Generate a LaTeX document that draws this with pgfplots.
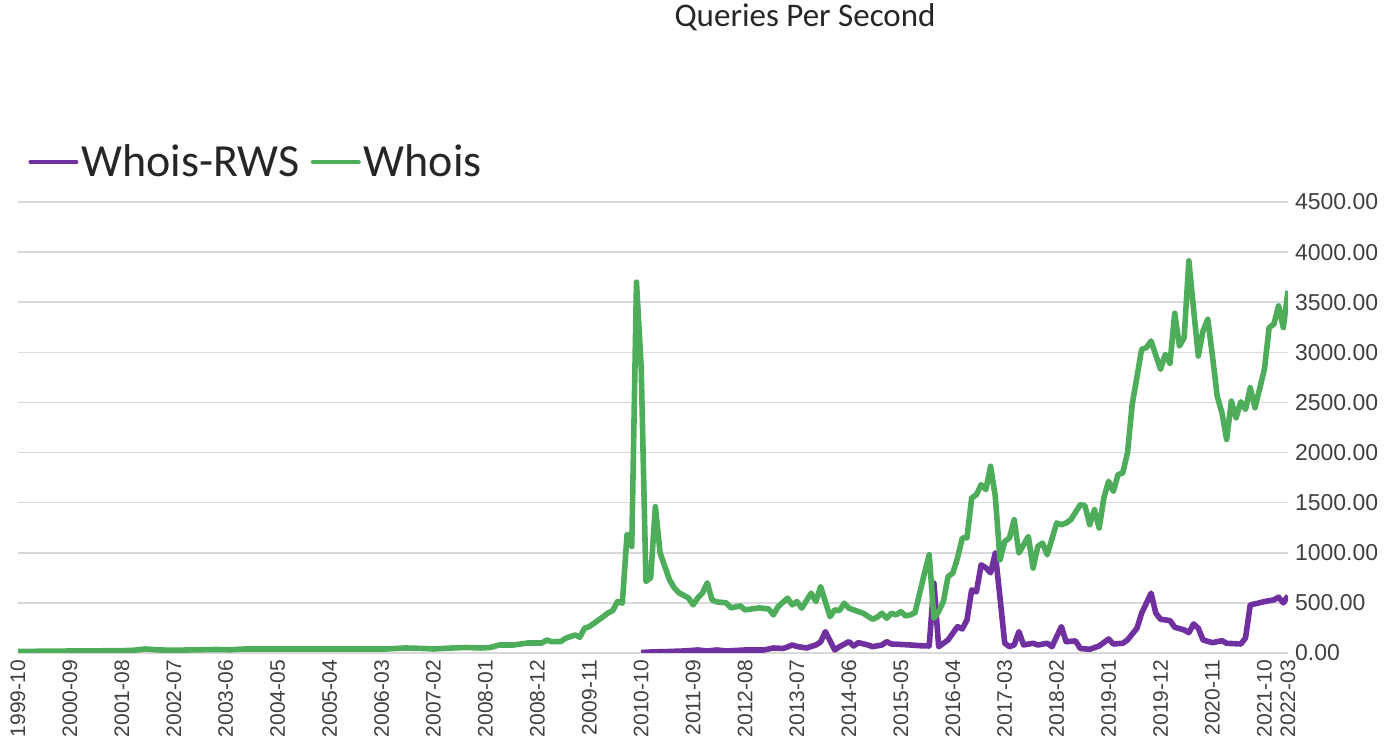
\documentclass[border=0pt]{standalone}
\usepackage{fontspec}
\setmainfont{Liberation Sans}
\newfontfamily\calibri{Carlito}
\usepackage{pgfplots}
\pgfplotsset{compat=1.18}
\definecolor{rws}{RGB}{112,48,160}
\definecolor{whois}{RGB}{78,173,91}
\definecolor{gridgray}{RGB}{217,217,217}
\definecolor{ticktext}{RGB}{64,64,64}
\definecolor{titletext}{RGB}{38,38,38}

% x = month index, 0 = 1999-10 ... 269 = 2022-03
\pgfplotstableread{
x y
132 5
134 10
138 15
141 20
144 30
146 20
148 30
150 20
152 25
154 30
158 30
160 50
162 45
163 60
164 80
165 65
167 50
169 80
170 110
171 213
173 30
174 63
176 113
177 70
178 103
180 80
181 63
183 80
184 113
185 90
187 85
189 80
191 73
193 70
194 697
195 63
197 130
199 263
200 240
201 330
202 630
203 610
204 880
205 850
206 800
207 997
208 550
209 97
210 63
211 80
212 213
213 80
215 97
216 80
218 97
219 63
221 263
222 113
224 120
225 45
227 37
229 70
231 140
232 90
234 97
235 130
237 247
238 397
240 597
241 397
242 337
244 323
245 257
247 230
248 203
249 290
250 247
251 130
253 103
255 123
256 97
259 90
260 150
261 480
262 490
264 513
266 530
267 557
268 500
269 570
}\rwsdata

\pgfplotstableread{
x y
0 15
6 18
12 20
18 22
24 25
27 40
30 30
33 28
36 30
42 35
45 32
48 40
54 40
60 40
66 40
72 40
78 40
80 45
82 50
86 45
88 40
92 50
95 55
98 50
100 55
102 80
105 80
108 100
111 100
112 130
113 113
115 115
116 147
118 180
119 157
120 247
121 263
123 330
125 400
126 425
127 515
128 497
129 1180
130 1063
131 3700
132 2850
133 714
134 750
135 1460
136 1000
137 863
138 730
139 650
140 600
142 550
143 480
144 550
145 600
146 700
147 530
148 510
150 500
151 450
153 470
154 430
157 450
159 440
160 380
161 463
163 547
164 480
165 513
166 447
168 597
169 513
170 663
172 363
173 430
174 423
175 497
176 447
178 413
179 397
181 337
182 357
183 397
184 347
185 397
186 380
187 413
188 370
189 380
190 403
192 797
193 980
194 347
195 413
196 513
197 763
198 797
199 947
200 1147
201 1150
202 1547
203 1580
204 1680
205 1630
206 1863
207 1563
208 930
209 1113
210 1147
211 1330
212 997
214 1163
215 847
216 1063
217 1097
218 980
220 1297
221 1280
222 1297
223 1330
225 1480
226 1470
227 1280
228 1430
229 1247
230 1547
231 1713
232 1613
233 1780
234 1797
235 1997
236 2480
238 3030
239 3047
240 3113
242 2830
243 2980
244 2890
245 3390
246 3063
247 3147
248 3913
249 3430
250 2963
251 3213
252 3330
253 2963
254 2563
255 2397
256 2130
257 2513
258 2347
259 2507
260 2430
261 2647
262 2447
264 2830
265 3247
266 3280
267 3463
268 3247
269 3613
}\whoisdata

\begin{document}
\begin{tikzpicture}
\path[use as bounding box] (-9pt,-44.5pt) rectangle (684pt,326.5pt);
\begin{axis}[
    at={(0pt,0pt)}, anchor=south west,
    scale only axis, width=635pt, height=225.5pt,
    xmin=0, xmax=269, ymin=0, ymax=4500,
    axis line style={draw=none},
    ymajorgrids, grid style={gridgray, line width=0.75pt},
    major tick length=0pt,
    ytick={0,500,1000,1500,2000,2500,3000,3500,4000,4500},
    yticklabel pos=right,
    /pgf/number format/fixed,
    /pgf/number format/fixed zerofill,
    /pgf/number format/precision=2,
    /pgf/number format/1000 sep={},
    /pgf/number format/assume math mode=true,
    yticklabel style={font=\fontsize{11.5}{13}\selectfont, text=ticktext},
    xtick={0,11,22,33,44,55,66,77,88,99,110,121,132,143,154,165,176,187,198,209,220,231,242,253,264,269},
    xticklabels={1999-10,2000-09,2001-08,2002-07,2003-06,2004-05,2005-04,2006-03,2007-02,2008-01,2008-12,2009-11,2010-10,2011-09,2012-08,2013-07,2014-06,2015-05,2016-04,2017-03,2018-02,2019-01,2019-12,2020-11,2021-10,2022-03},
    xticklabel style={rotate=90, anchor=east, font=\fontsize{10.5}{12}\selectfont, text=ticktext},
    legend columns=2,
    legend image code/.code={\draw[#1, line width=2pt, line cap=round] (0pt,0pt) -- (23pt,0pt);},
    legend style={at={(0.0079,1.0887)}, anchor=west, draw=none, fill=none, inner sep=0pt,
        font=\calibri\fontsize{23}{26}\selectfont, text=titletext,
        nodes={inner sep=1.5pt},
        /tikz/every even column/.append style={column sep=4pt}},
]
\addplot[rws, line width=2.8pt, line join=round] table {\rwsdata};
\addlegendentry{Whois-RWS}
\addplot[whois, line width=2.8pt, line join=round] table {\whoisdata};
\addlegendentry{Whois}
\end{axis}
\node[font=\calibri\fontsize{16.5}{19}\selectfont, text=titletext] at (393.5pt,318pt) {Queries Per Second};
\end{tikzpicture}
\end{document}
